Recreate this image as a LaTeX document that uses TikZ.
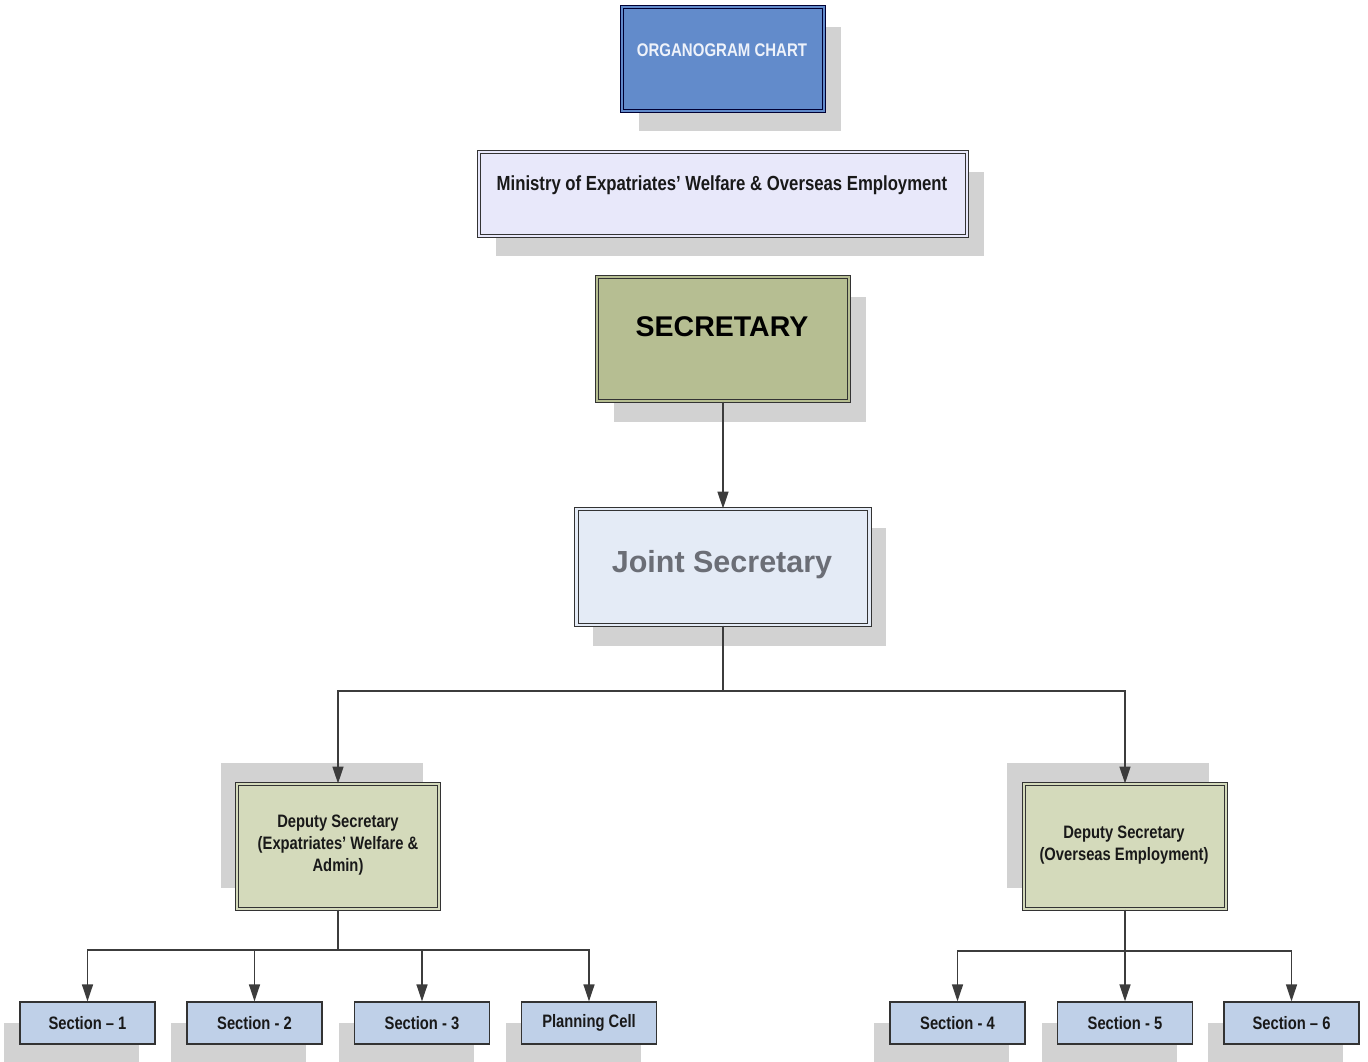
\documentclass[tikz,border=0pt]{standalone}
\usepackage{fontspec}
\usetikzlibrary{arrows.meta}
\newfontfamily\narrowfont{Liberation Sans}[FakeStretch=0.82]
\newfontfamily\widefont{Liberation Sans}
\definecolor{shadowc}{HTML}{D2D2D2}
\definecolor{edgec}{HTML}{333333}
\definecolor{orgfill}{HTML}{628BCB}
\definecolor{minfill}{HTML}{E8E8FA}
\definecolor{secfill}{HTML}{B6BE92}
\definecolor{jsfill}{HTML}{E4EBF6}
\definecolor{dsfill}{HTML}{D4DABB}
\definecolor{sfill}{HTML}{BFD0E8}
\definecolor{jstext}{HTML}{6B6E76}
\definecolor{orgtext}{HTML}{EEF2FA}
\definecolor{linec}{HTML}{3C3C3C}
\tikzset{
  dbox/.style={rectangle, draw=edgec, line width=1pt, double distance=2.2pt, inner sep=0pt},
  sbox/.style={rectangle, draw=edgec, line width=1.3pt, fill=sfill, inner sep=0pt, minimum width=135pt, minimum height=42pt, font=\narrowfont\bfseries\fontsize{18}{20}\selectfont, text=black!90},
  lbl/.style={inner sep=0pt, font=\narrowfont\bfseries, align=center},
  conn/.style={draw=linec, line width=1.6pt},
  arr/.style={conn, -{Triangle[length=17pt,width=11pt]}},
}
\begin{document}
\begin{tikzpicture}[x=1pt,y=-1pt]
\useasboundingbox (0,0) rectangle (1368,1061);
\clip (0,0) rectangle (1368,1061);
% shadows
\fill[shadowc] (639,27) rectangle (841,131);
\fill[shadowc] (496,172) rectangle (984,256);
\fill[shadowc] (614,297) rectangle (866,422);
\fill[shadowc] (593,528) rectangle (886,646);
\fill[shadowc] (221,763) rectangle (423,888);
\fill[shadowc] (1007,763) rectangle (1209,888);
\foreach \cx in {87.5,254.5,422,589,957.5,1125,1291.5}
  \fill[shadowc] (\cx-83.5,1023) rectangle (\cx+51.5,1075);
% boxes
\node[dbox, fill=orgfill, double=orgfill, draw=black!80!blue, minimum width=202pt, minimum height=104pt] (org) at (723,59) {};
\node[lbl, text=orgtext, font=\narrowfont\bfseries\fontsize{18.3}{21}\selectfont] (orgT) at (722,50) {ORGANOGRAM CHART};
\node[dbox, fill=minfill, double=minfill, minimum width=488pt, minimum height=84pt] (min) at (723,194) {};
\node[lbl, text=black!90, font=\narrowfont\bfseries\fontsize{20.4}{23}\selectfont] (minT) at (722,185) {Ministry of Expatriates’ Welfare \& Overseas Employment};
\node[dbox, fill=secfill, double=secfill, minimum width=252pt, minimum height=124pt] (sec) at (723,339) {};
\node[lbl, text=black, font=\widefont\bfseries\fontsize{28.5}{33}\selectfont] (secT) at (722,327) {SECRETARY};
\node[dbox, fill=jsfill, double=jsfill, minimum width=293pt, minimum height=116pt] (js) at (723,567) {};
\node[lbl, text=jstext, font=\widefont\bfseries\fontsize{30.5}{32}\selectfont] (jsT) at (722,565) {Joint Secretary};
\node[dbox, fill=dsfill, double=dsfill, minimum width=202pt, minimum height=125pt] (ds1) at (338,846.5) {};
\node[lbl, text=black!90, font=\narrowfont\bfseries\fontsize{18}{22}\selectfont] (ds1T) at (338,845) {Deputy Secretary\\(Expatriates’ Welfare \&\\Admin)};
\node[dbox, fill=dsfill, double=dsfill, minimum width=202pt, minimum height=125pt] (ds2) at (1125,846.5) {};
\node[lbl, text=black!90, font=\narrowfont\bfseries\fontsize{18}{22}\selectfont] (ds2T) at (1124,845) {Deputy Secretary\\(Overseas Employment)};
% sections
\node[sbox] (s1) at (87.5,1023) {Section – 1};
\node[sbox] (s2) at (254.5,1023) {Section - 2};
\node[sbox] (s3) at (422,1023) {Section - 3};
\node[sbox] (pc) at (589,1023) {Planning Cell};
\node[sbox] (s4) at (957.5,1023) {Section - 4};
\node[sbox] (s5) at (1125,1023) {Section - 5};
\node[sbox] (s6) at (1291.5,1023) {Section – 6};
% connectors
\draw[arr] (sec) -- (js);
\coordinate (jb) at (723,691);
\draw[conn] (js.south) -- (jb);
\draw[arr] (jb) -| (ds1.north);
\draw[arr] (jb) -| (ds2.north);
\coordinate (d1b) at (338,950);
\draw[conn] (ds1.south) -- (d1b);
\foreach \t in {s1,s2,s3,pc} \draw[arr] (d1b) -| (\t.north);
\coordinate (d2b) at (1125,951);
\draw[conn] (ds2.south) -- (d2b);
\foreach \t in {s4,s5,s6} \draw[arr] (d2b) -| (\t.north);
\end{tikzpicture}
\end{document}
